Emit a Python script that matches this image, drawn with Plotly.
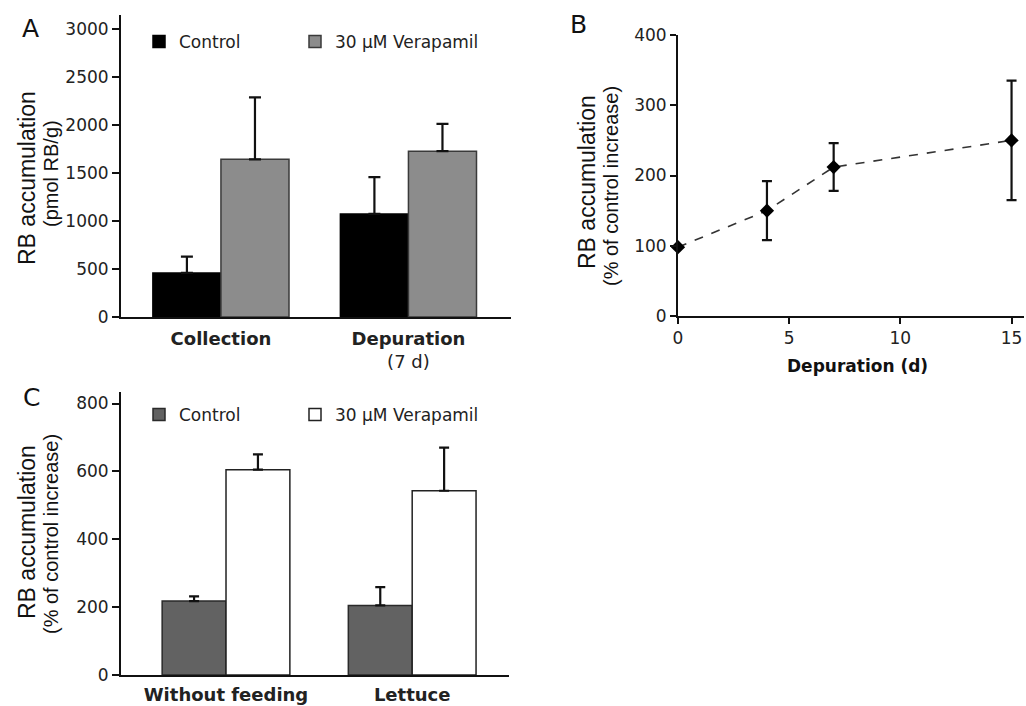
import plotly.graph_objects as go

W, H = 1026, 706

# ---------------- data ----------------
# Panel A
a_categories = ["Collection", "Depuration"]
a_ticktext = ["<b>Collection</b>", "<b>Depuration</b><br>(7 d)"]
a_control = [460, 1075]
a_control_err = [170, 385]
a_verapamil = [1645, 1730]
a_verapamil_err = [645, 285]
a_yticks = [0, 500, 1000, 1500, 2000, 2500, 3000]

# Panel B
b_days = [0, 4, 7, 15]
b_values = [98, 150, 212, 250]
b_err = [0, 42, 34, 85]
b_xticks = [0, 5, 10, 15]
b_yticks = [0, 100, 200, 300, 400]

# Panel C
c_categories = ["Without feeding", "Lettuce"]
c_ticktext = ["<b>Without feeding</b>", "<b>Lettuce</b>"]
c_control = [218, 205]
c_control_err = [14, 54]
c_verapamil = [605, 543]
c_verapamil_err = [45, 127]
c_yticks = [0, 200, 400, 600, 800]

FONT = "DejaVu Sans"
TFONT = "Liberation Sans"


def px(x):
    return x / W


def py(y):
    return 1 - y / H


fig = go.Figure()

# ---------------- Panel A ----------------
wa = 0.363
fig.add_trace(go.Bar(
    x=a_categories, y=a_control, name="Control", xaxis="x", yaxis="y",
    width=wa, offset=-wa, legendwidth=111,
    marker=dict(color="#000000", line=dict(color="#000000", width=1.5)),
    error_y=dict(type="data", symmetric=False, array=a_control_err,
                 arrayminus=[0] * len(a_control_err),
                 color="#111111", thickness=2.2, width=6),
    legend="legend",
))
fig.add_trace(go.Bar(
    x=a_categories, y=a_verapamil, name="30 µM Verapamil", xaxis="x", yaxis="y",
    width=wa, offset=0, legendwidth=220,
    marker=dict(color="#8c8c8c", line=dict(color="#3a3a3a", width=1.5)),
    error_y=dict(type="data", symmetric=False, array=a_verapamil_err,
                 arrayminus=[0] * len(a_verapamil_err),
                 color="#111111", thickness=2.2, width=6),
    legend="legend",
))

# ---------------- Panel B ----------------
fig.add_trace(go.Scatter(
    x=b_days, y=b_values, xaxis="x2", yaxis="y2", mode="lines+markers",
    line=dict(color="#333333", width=1.6, dash="dash"),
    marker=dict(symbol="diamond", size=11, color="#000000"),
    error_y=dict(type="data", array=b_err, color="#111111", thickness=2.2, width=5),
    showlegend=False, cliponaxis=False,
))

# ---------------- Panel C ----------------
wc = 0.343
fig.add_trace(go.Bar(
    x=c_categories, y=c_control, name="Control", xaxis="x3", yaxis="y3",
    width=wc, offset=-wc, legendwidth=111,
    marker=dict(color="#626262", line=dict(color="#2a2a2a", width=1.5)),
    error_y=dict(type="data", symmetric=False, array=c_control_err,
                 arrayminus=[0] * len(c_control_err),
                 color="#111111", thickness=2.2, width=5),
    legend="legend2",
))
fig.add_trace(go.Bar(
    x=c_categories, y=c_verapamil, name="30 µM Verapamil", xaxis="x3", yaxis="y3",
    width=wc, offset=0, legendwidth=220,
    marker=dict(color="#ffffff", line=dict(color="#222222", width=1.5)),
    error_y=dict(type="data", symmetric=False, array=c_verapamil_err,
                 arrayminus=[0] * len(c_verapamil_err),
                 color="#111111", thickness=2.2, width=5),
    legend="legend2",
))

axis_common = dict(showline=True, linewidth=2, linecolor="#111111", showgrid=False,
                   zeroline=False, ticks="outside", tickwidth=2, tickcolor="#111111",
                   tickfont=dict(family=FONT, size=17, color="#222222"))

legend_common = dict(orientation="h", bgcolor="rgba(0,0,0,0)", borderwidth=0,
                     font=dict(family=FONT, size=17, color="#222222"),
                     entrywidthmode="pixels",
                     xanchor="left", yanchor="middle", traceorder="normal")

fig.update_layout(
    width=W, height=H, template="none",
    margin=dict(l=0, r=0, t=0, b=0),
    paper_bgcolor="white", plot_bgcolor="white",
    barmode="overlay",
    font=dict(family=FONT, color="#222222"),
    xaxis=dict(axis_common, domain=[px(121), px(511)], anchor="y", type="category",
               range=[-0.533, 1.547], tickmode="array", tickvals=a_categories,
               ticktext=a_ticktext, ticks="", ticklabelstandoff=4,
               tickfont=dict(family=FONT, size=18, color="#222222")),
    yaxis=dict(axis_common, domain=[py(317), py(15)], anchor="x", range=[0, 3150],
               tickmode="array", tickvals=a_yticks, ticklen=7),
    xaxis2=dict(axis_common, domain=[px(678), px(1024)], anchor="y2",
                range=[0, 15.56], tickmode="array", tickvals=b_xticks, ticklen=6),
    yaxis2=dict(axis_common, domain=[py(316), py(35)], anchor="x2",
                range=[0, 400], tickmode="array", tickvals=b_yticks, ticklen=6),
    xaxis3=dict(axis_common, domain=[px(121), px(509)], anchor="y3", type="category",
                range=[-0.564, 1.52], tickmode="array", tickvals=c_categories,
                ticktext=c_ticktext, ticks="", ticklabelstandoff=2,
                tickfont=dict(family=FONT, size=18, color="#222222")),
    yaxis3=dict(axis_common, domain=[py(675), py(392)], anchor="x3", range=[0, 834],
                tickmode="array", tickvals=c_yticks, ticklen=7),
    legend=dict(legend_common, x=px(139), y=py(42)),
    legend2=dict(legend_common, x=px(139), y=py(415)),
    showlegend=True,
)

annots = [
    dict(text="A", x=px(30), y=py(28), size=25, angle=0, fam=FONT),
    dict(text="B", x=px(578), y=py(24), size=25, angle=0, fam=FONT),
    dict(text="C", x=px(31), y=py(397), size=25, angle=0, fam=FONT),
    dict(text="RB accumulation", x=px(27), y=py(178), size=23, angle=-90, fam=TFONT),
    dict(text="(pmol RB/g)", x=px(51), y=py(174), size=20, angle=-90, fam=TFONT),
    dict(text="RB accumulation", x=px(587), y=py(182), size=23, angle=-90, fam=TFONT),
    dict(text="(% of control increase)", x=px(611), y=py(186), size=20, angle=-90, fam=TFONT),
    dict(text="RB accumulation", x=px(27), y=py(532), size=23, angle=-90, fam=TFONT),
    dict(text="(% of control increase)", x=px(51), y=py(534), size=20, angle=-90, fam=TFONT),
    dict(text="<b>Depuration (d)</b>", x=px(857), y=py(366), size=17, angle=0, fam=FONT),
]
for a in annots:
    fig.add_annotation(text=a["text"], x=a["x"], y=a["y"], xref="paper", yref="paper",
                       xanchor="center", yanchor="middle", showarrow=False,
                       textangle=a["angle"],
                       font=dict(family=a["fam"], size=a["size"], color="#111111"))

fig.write_html("out.html", config={"displayModeBar": False},
               post_script="document.body.style.margin='0px';document.body.style.overflow='hidden';")
